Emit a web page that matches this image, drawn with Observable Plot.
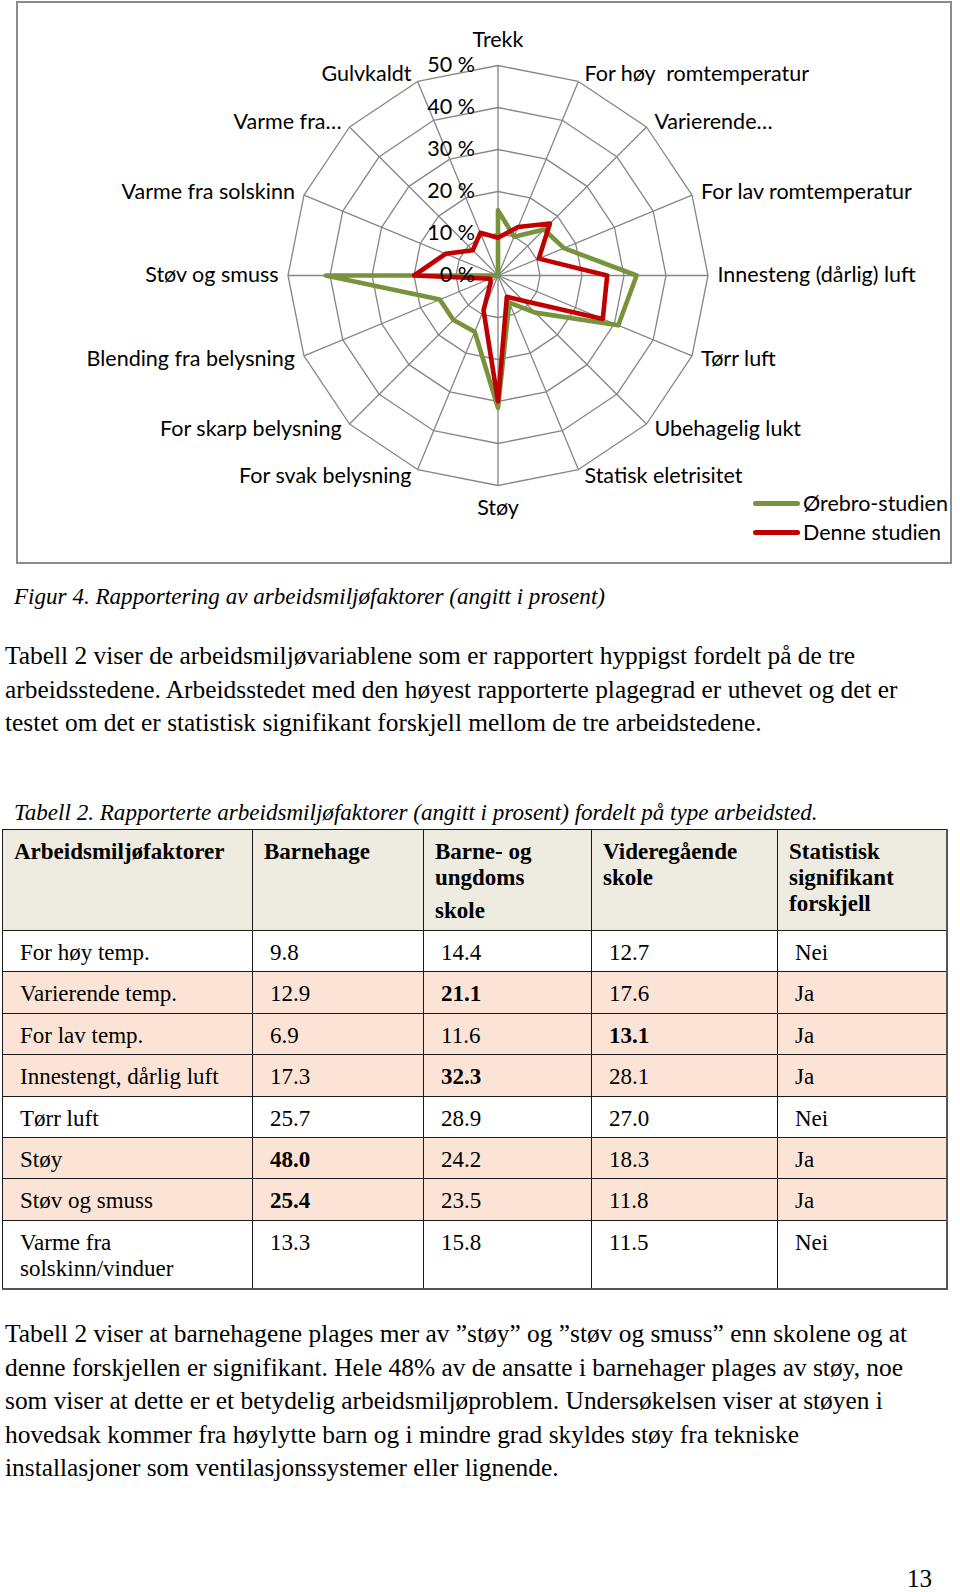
<!DOCTYPE html>
<html lang="no"><head><meta charset="utf-8">
<script src="https://cdn.jsdelivr.net/npm/d3@7"></script>
<script src="https://cdn.jsdelivr.net/npm/@observablehq/plot@0.6"></script>
<style>
html,body{margin:0;padding:0;background:#fff;}
#page{position:relative;width:960px;height:1592px;overflow:hidden;background:#fff;color:#000;font-family:"Liberation Serif","Times New Roman",serif;}
#chart{position:absolute;left:0;top:0;}
#chart svg text{white-space:pre;}
#box{position:absolute;left:16px;top:1px;width:936px;height:563px;border:2px solid #8c8c8c;box-sizing:border-box;pointer-events:none;}
.legend{position:absolute;left:753px;font-family:Lato,sans-serif;font-size:21.5px;display:flex;align-items:center;height:24px;white-space:nowrap;}
.legend .sw{width:47px;height:5px;border-radius:2.5px;margin-right:3px;}
.line{position:absolute;left:5px;white-space:nowrap;font-size:25.4px;line-height:34px;height:34px;}
.cap{position:absolute;left:14px;white-space:nowrap;font-size:23.1px;font-style:italic;line-height:30px;height:30px;}
#tbl{position:absolute;left:2px;top:829px;border-collapse:collapse;table-layout:fixed;font-size:23px;width:944px;}
#tbl td,#tbl th{border:1.5px solid #1a1a1a;vertical-align:top;text-align:left;padding:9px 4px 0 17px;line-height:26px;overflow:hidden;}
#tbl th{background:#EEECE1;font-weight:bold;padding-left:11px;}
#tbl tr > *:last-child{border-right:2px solid #555;}
#tbl tr:last-child td{border-bottom:2px solid #555;}
#pnum{position:absolute;right:28px;top:1562px;font-size:25px;line-height:34px;}
</style></head>
<body><div id="page">
<div id="chart"></div>
<div id="box"></div>
<div id="legend"></div>
<div id="texts"></div>
<table id="tbl"></table>
<div id="pnum">13</div>
</div>
<script>
// ---------- radar chart data ----------
const categories = ["Trekk","For høy  romtemperatur","Varierende…","For lav romtemperatur","Innesteng (dårlig) luft","Tørr luft","Ubehagelig lukt","Statisk eletrisitet","Støy","For svak belysning","For skarp belysning","Blending fra belysning","Støv og smuss","Varme fra solskinn","Varme fra…","Gulvkaldt"];
const orebro = [15.5,10,15.5,17,33,31,12.5,7,31.5,14.5,15,15,41,0,0,0];
const denne  = [9,12.5,17.5,10.5,26,27,8.5,5.5,30,9,2.5,2,20,13.5,8.5,11];
const seriesNames = ["Ørebro-studien","Denne studien"];
const seriesColors = ["#77933C","#C00000"];
const ticks = [0,10,20,30,40,50];
const tickLabels = ["0 %","10 %","20 %","30 %","40 %","50 %"];

// ---------- table data ----------
const tableHeader = ["Arbeidsmiljøfaktorer","Barnehage","Barne- og|ungdoms|skole","Videregående|skole","Statistisk|signifikant|forskjell"];
const tableFactors = ["For høy temp.","Varierende temp.","For lav temp.","Innestengt, dårlig luft","Tørr luft","Støy","Støv og smuss","Varme fra|solskinn/vinduer"];
const barnehage    = [9.8,12.9,6.9,17.3,25.7,48.0,25.4,13.3];
const barneUngdom  = [14.4,21.1,11.6,32.3,28.9,24.2,23.5,15.8];
const videregaende = [12.7,17.6,13.1,28.1,27.0,18.3,11.8,11.5];
const signifikant  = ["Nei","Ja","Ja","Ja","Nei","Ja","Ja","Nei"];

// ---------- text ----------
const figCaption = "Figur 4. Rapportering av arbeidsmiljøfaktorer (angitt i prosent)";
const tabCaption = "Tabell 2. Rapporterte arbeidsmiljøfaktorer (angitt i prosent) fordelt på type arbeidsted.";
const para1 = ["Tabell 2 viser de arbeidsmiljøvariablene som er rapportert hyppigst fordelt på de tre",
  "arbeidsstedene. Arbeidsstedet med den høyest rapporterte plagegrad er uthevet og det er",
  "testet om det er statistisk signifikant forskjell mellom de tre arbeidstedene."];
const para2 = ["Tabell 2 viser at barnehagene plages mer av ”støy” og ”støv og smuss” enn skolene og at",
  "denne forskjellen er signifikant. Hele 48% av de ansatte i barnehager plages av støy, noe",
  "som viser at dette er et betydelig arbeidsmiljøproblem. Undersøkelsen viser at støyen i",
  "hovedsak kommer fra høylytte barn og i mindre grad skyldes støy fra tekniske",
  "installasjoner som ventilasjonssystemer eller lignende."];

// ---------- radar ----------
const W = 960, H = 566, CX = 497.5, CY = 275, PX = 4.2;
const n = categories.length;
const ang = i => i * 2 * Math.PI / n;
const pos = (v, i) => ({x: v * Math.sin(ang(i)), y: v * Math.cos(ang(i))});
const rMax = d3.max(ticks);
const rings = ticks.filter(t => t > 0).flatMap(t => d3.range(n + 1).map(i => ({t, ...pos(t, i % n)})));
const spokes = categories.map((c, i) => ({c, ...pos(rMax, i)}));
const seriesVals = [orebro, denne];
const seriesPts = seriesNames.flatMap((name, s) => d3.range(n + 1).map(i => ({name, ...pos(seriesVals[s][i % n], i % n)})));
const labels = categories.map((c, i) => {
  const s = Math.sin(ang(i)), co = Math.cos(ang(i));
  const p = pos(rMax, i);
  const anchor = Math.abs(s) < 1e-6 ? "middle" : (s > 0 ? "start" : "end");
  const ox = anchor === "middle" ? 0 : Math.sign(s) * (4 + 5.5 * Math.abs(s)) / PX;
  const oy = anchor === "middle" ? (co > 0 ? 25 : -23) / PX : (7.5 * co) / PX;
  return {c, anchor, x: p.x + ox, y: p.y + oy};
});
const tickData = ticks.map((t, i) => ({t, label: tickLabels[i]}));

const chart = Plot.plot({
  width: W, height: H, margin: 0,
  x: {domain: [-CX / PX, (W - CX) / PX], axis: null},
  y: {domain: [-(H - CY) / PX, CY / PX], axis: null},
  color: {domain: seriesNames, range: seriesColors},
  style: {fontFamily: "Lato, sans-serif", fontSize: "21.5px", color: "#000", background: "transparent", overflow: "visible"},
  marks: [
    Plot.line(rings, {x: "x", y: "y", z: "t", stroke: "#868686", strokeWidth: 1.3}),
    Plot.link(spokes, {x1: () => 0, y1: () => 0, x2: "x", y2: "y", stroke: "#868686", strokeWidth: 1.3}),
    Plot.line(seriesPts, {x: "x", y: "y", z: "name", stroke: "name", strokeWidth: 4.6, strokeLinejoin: "round", curve: "linear"}),
    Plot.text(labels.filter(d => d.anchor === "start"), {x: "x", y: "y", text: "c", textAnchor: "start", fill: "#000"}),
    Plot.text(labels.filter(d => d.anchor === "end"), {x: "x", y: "y", text: "c", textAnchor: "end", fill: "#000"}),
    Plot.text(labels.filter(d => d.anchor === "middle"), {x: "x", y: "y", text: "c", textAnchor: "middle", fill: "#000"}),
    Plot.text(tickData, {x: () => 0, y: "t", text: "label", textAnchor: "end", dx: -23, fill: "#000"})
  ]
});
document.getElementById("chart").appendChild(chart);

// legend
const legend = document.getElementById("legend");
seriesNames.forEach((name, i) => {
  const d = document.createElement("div");
  d.className = "legend";
  d.style.top = (491 + i * 29) + "px";
  d.innerHTML = `<span class="sw" style="background:${seriesColors[i]}"></span><span>${name}</span>`;
  legend.appendChild(d);
});

// texts
const texts = document.getElementById("texts");
function addLine(cls, txt, centerY, h) {
  const d = document.createElement("div");
  d.className = cls; d.textContent = txt; d.style.top = (centerY - h / 2) + "px";
  texts.appendChild(d);
}
addLine("cap", figCaption, 596, 30);
addLine("cap", tabCaption, 812, 30);
para1.forEach((t, i) => addLine("line", t, 655 + i * 33.6, 34));
para2.forEach((t, i) => addLine("line", t, 1333 + i * 33.6, 34));

// table
const tbl = document.getElementById("tbl");
const colW = [250, 171, 168, 186, 169];
const cg = document.createElement("colgroup");
colW.forEach(w => { const c = document.createElement("col"); c.style.width = w + "px"; cg.appendChild(c); });
tbl.appendChild(cg);
const hr = document.createElement("tr"); hr.style.height = "101px";
tableHeader.forEach((h, j) => {
  const th = document.createElement("th");
  const parts = h.split("|");
  th.innerHTML = parts.map((p, k) => (j === 2 && k === 2) ? `<span style="display:block;margin-top:7px">${p}</span>` : p + (k < parts.length - 1 && !(j === 2 && k === 1) ? "<br>" : "")).join("");
  hr.appendChild(th);
});
tbl.appendChild(hr);
const cols = [barnehage, barneUngdom, videregaende];
tableFactors.forEach((f, i) => {
  const tr = document.createElement("tr");
  tr.style.height = (i === tableFactors.length - 1 ? 69 : 41.4) + "px";
  tr.style.background = signifikant[i] === "Ja" ? "#FBE4D5" : "#fff";
  const vals = cols.map(c => c[i]);
  const mx = d3.max(vals);
  const cells = [f.split("|").join("<br>")]
    .concat(vals.map(v => (signifikant[i] === "Ja" && v === mx) ? `<b>${v.toFixed(1)}</b>` : v.toFixed(1)))
    .concat([signifikant[i]]);
  cells.forEach(c => { const td = document.createElement("td"); td.innerHTML = c; tr.appendChild(td); });
  tbl.appendChild(tr);
});
</script>
</body></html>
